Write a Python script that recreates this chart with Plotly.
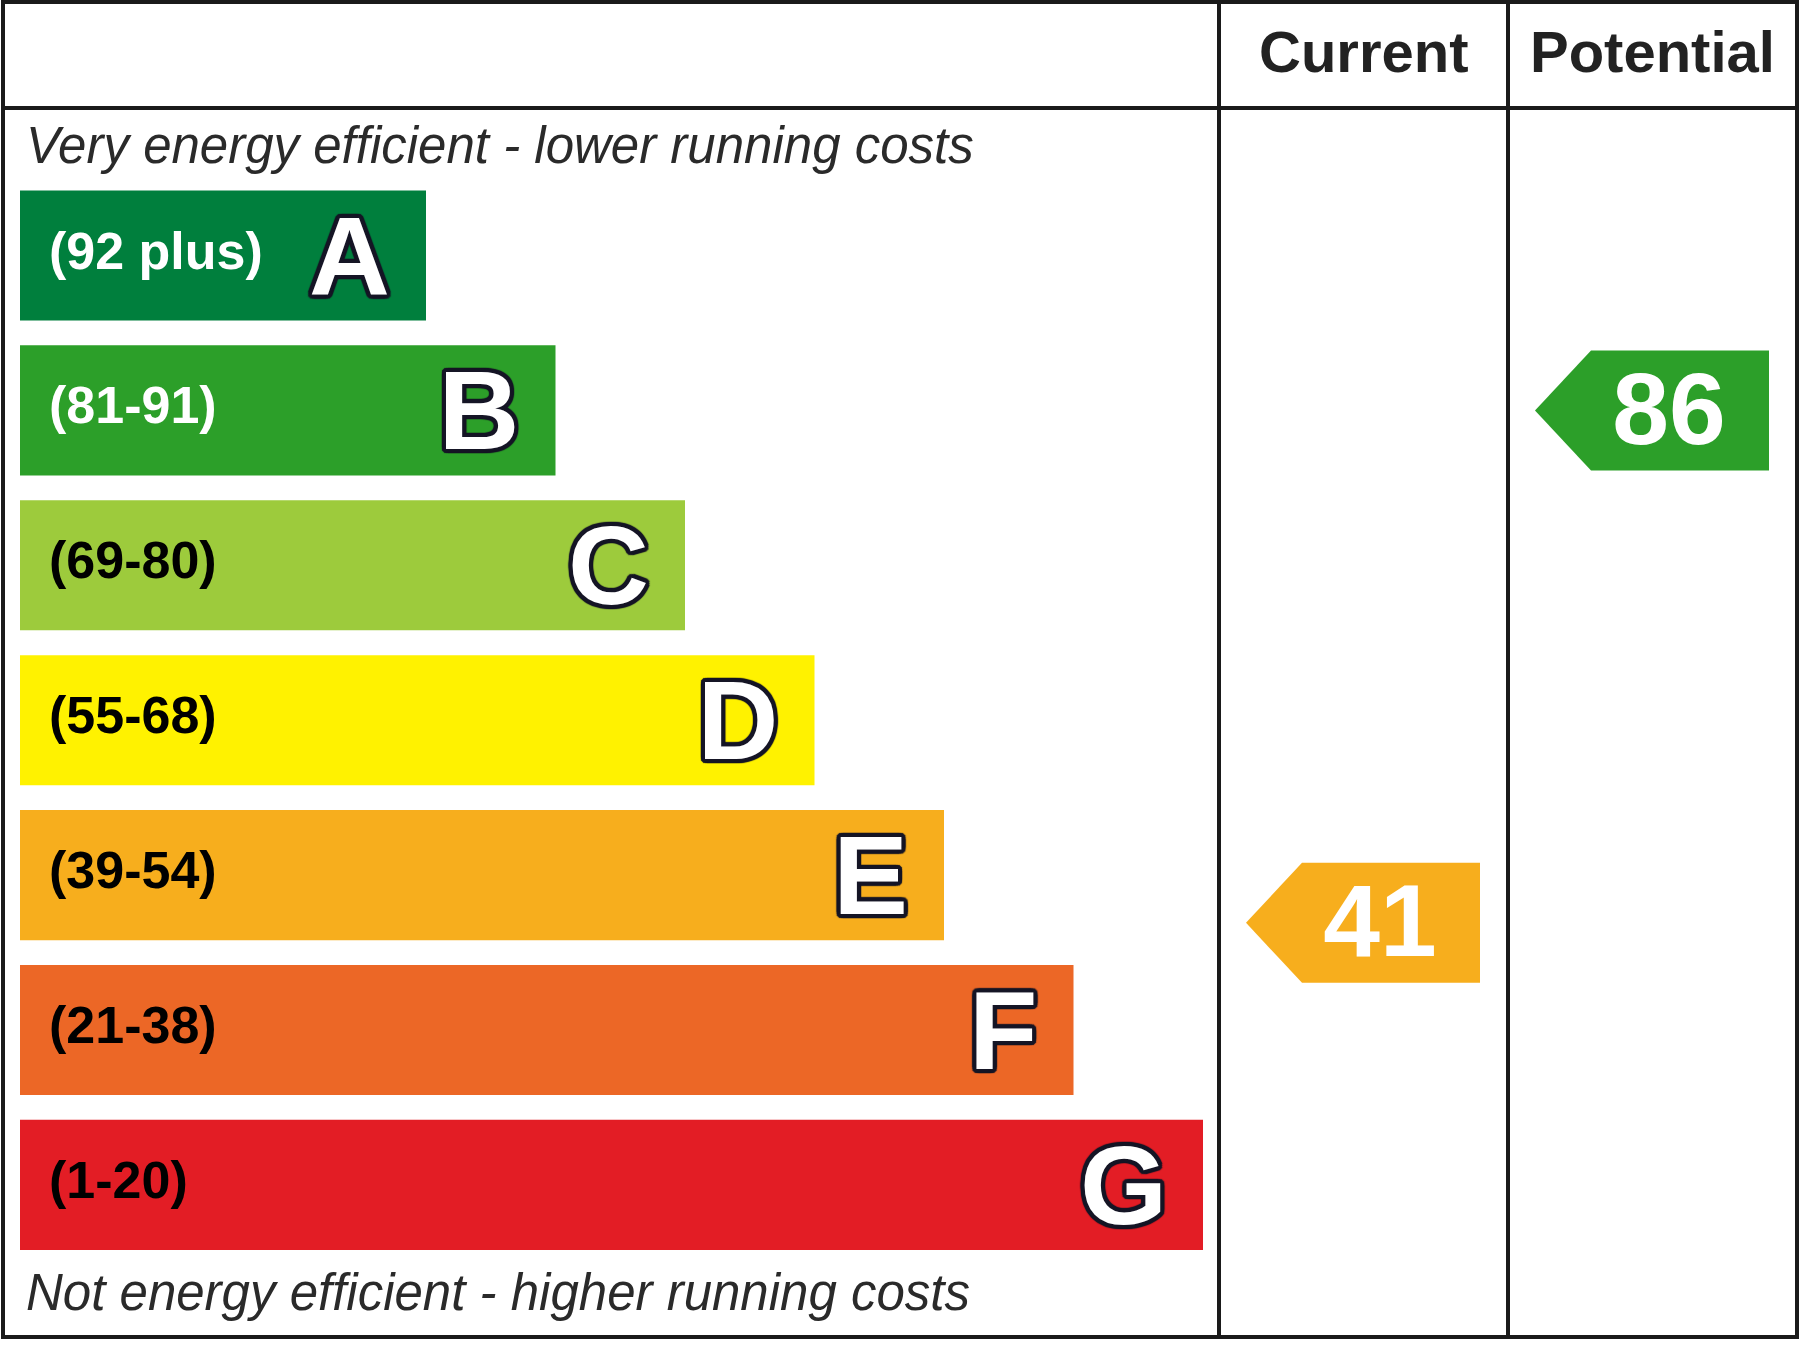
import plotly.graph_objects as go

# EPC rating bands, most efficient at the top
bands = ["A", "B", "C", "D", "E", "F", "G"]
band_ranges = ["(92 plus)", "(81-91)", "(69-80)", "(55-68)", "(39-54)", "(21-38)", "(1-20)"]
band_low = [92, 81, 69, 55, 39, 21, 1]
band_high = [100, 91, 80, 68, 54, 38, 20]
band_colors = ["#007f3d", "#2c9f29", "#9dcb3c", "#fff200", "#f7ae1d", "#ec6726", "#e31d25"]
range_text_colors = ["white", "white", "black", "black", "black", "black", "black"]

# the two rating columns
columns = ["Current", "Potential"]
scores = [41, 86]

top_note = "Very energy efficient - lower running costs"
bottom_note = "Not energy efficient - higher running costs"

# layout constants (pixels on a 1800x1350 canvas)
W, H = 1800, 1350
FONT = "Liberation Sans, Arial, sans-serif"
BAR_X0 = 20
BAR_END0 = 426
BAR_STEP = 129.5
BAR_H = 0.84          # in band units
BAND_TOP = 255.5      # pixel centre of the first band
BAND_PITCH = 154.9
COL_EDGES = [1219, 1508, 1797]
ARROW_PAD = 27
ARROW_TIP = 56
ARROW_H = 0.775
LINE = "#1a1a1a"
LETTER_DROP = 11 / BAND_PITCH   # big glyphs sit a little high when centred
NUMBER_DROP = 8 / BAND_PITCH

idx = list(range(len(bands)))
bar_len = [BAR_END0 - BAR_X0 + BAR_STEP * i for i in idx]
bar_end = [BAR_X0 + l for l in bar_len]

fig = go.Figure()

# coloured bands
fig.add_trace(go.Bar(
    y=idx, x=bar_len, base=BAR_X0, orientation="h", width=BAR_H,
    marker=dict(color=band_colors, line=dict(width=0)),
    hoverinfo="skip", showlegend=False,
))

# range labels at the left of each band
for i in idx:
    fig.add_trace(go.Scatter(
        x=[BAR_X0 + 29], y=[i], mode="text", text=[band_ranges[i]],
        textposition="middle right",
        textfont=dict(family=FONT, size=52, color=range_text_colors[i], weight="bold"),
        hoverinfo="skip", showlegend=False,
    ))

# big outlined letters at the right end
offsets = [(-3, -3), (3, -3), (-3, 3), (3, 3), (0, 4), (0, -4), (4, 0), (-4, 0),
           (-2, -4), (2, -4), (-2, 4), (2, 4), (-4, -2), (4, -2), (-4, 2), (4, 2)]
outline = ", ".join(f"{dx}px {dy}px 1px #151525" for dx, dy in offsets)
fig.add_trace(go.Scatter(
    x=[e - 36 for e in bar_end], y=[i + LETTER_DROP for i in idx], mode="text", text=bands,
    textposition="middle left",
    textfont=dict(family=FONT, size=112, color="white", weight="bold", shadow=outline),
    hoverinfo="skip", showlegend=False,
))


def band_of(score):
    for i in idx:
        if band_low[i] <= score <= band_high[i]:
            return i
    return len(bands) - 1


# arrows in the Current / Potential columns
for c, score in enumerate(scores):
    b = band_of(score)
    yc = b + ((band_high[b] - score) / (band_high[b] - band_low[b]) - 0.5) * BAR_H
    tip = COL_EDGES[c] + ARROW_PAD
    right = COL_EDGES[c + 1] - ARROW_PAD - 1
    h = ARROW_H / 2
    fig.add_trace(go.Scatter(
        x=[tip, tip + ARROW_TIP, right, right, tip + ARROW_TIP, tip],
        y=[yc, yc - h, yc - h, yc + h, yc + h, yc],
        mode="lines", fill="toself", fillcolor=band_colors[b],
        line=dict(width=0, color=band_colors[b]),
        hoverinfo="skip", showlegend=False,
    ))
    fig.add_trace(go.Scatter(
        x=[right - 100], y=[yc + NUMBER_DROP], mode="text", text=[str(score)],
        textposition="middle center",
        textfont=dict(family=FONT, size=102, color="white", weight="bold"),
        hoverinfo="skip", showlegend=False,
    ))


def px(x):
    return x / W


def py(y):
    return 1 - y / H


# table frame
shapes = [
    dict(type="rect", xref="paper", yref="paper", x0=px(3), x1=px(1797), y0=py(1337), y1=py(2),
         line=dict(color=LINE, width=4)),
    dict(type="line", xref="paper", yref="paper", x0=px(3), x1=px(1797), y0=py(108), y1=py(108),
         line=dict(color=LINE, width=4)),
]
for xe in COL_EDGES[:2]:
    shapes.append(dict(type="line", xref="paper", yref="paper", x0=px(xe), x1=px(xe),
                       y0=py(1337), y1=py(2), line=dict(color=LINE, width=4)))

annotations = []
for c, name in enumerate(columns):
    annotations.append(dict(
        text=name, xref="paper", yref="paper",
        x=px((COL_EDGES[c] + COL_EDGES[c + 1]) / 2), y=py(51),
        xanchor="center", yanchor="middle", showarrow=False,
        font=dict(family=FONT, size=58, color="#222222", weight="bold"),
    ))
annotations.append(dict(
    text=top_note, xref="paper", yref="paper", x=px(24), y=py(146),
    xanchor="left", yanchor="middle", showarrow=False,
    font=dict(family=FONT, size=51, color="#2a2a2a", style="italic"),
))
annotations.append(dict(
    text=bottom_note, xref="paper", yref="paper", x=px(24), y=py(1292),
    xanchor="left", yanchor="middle", showarrow=False,
    font=dict(family=FONT, size=51, color="#2a2a2a", style="italic"),
))

y_top = -BAND_TOP / BAND_PITCH
y_bot = (H - BAND_TOP) / BAND_PITCH

fig.update_layout(
    width=W, height=H,
    margin=dict(l=0, r=0, t=0, b=0),
    paper_bgcolor="white", plot_bgcolor="white",
    xaxis=dict(range=[0, W], visible=False, fixedrange=True),
    yaxis=dict(range=[y_bot, y_top], visible=False, fixedrange=True),
    shapes=shapes, annotations=annotations,
)

# drop the browser's default page margin so the chart fills the window
fig.write_html("out.html", config={"displayModeBar": False},
               post_script="document.body.style.margin='0';")
